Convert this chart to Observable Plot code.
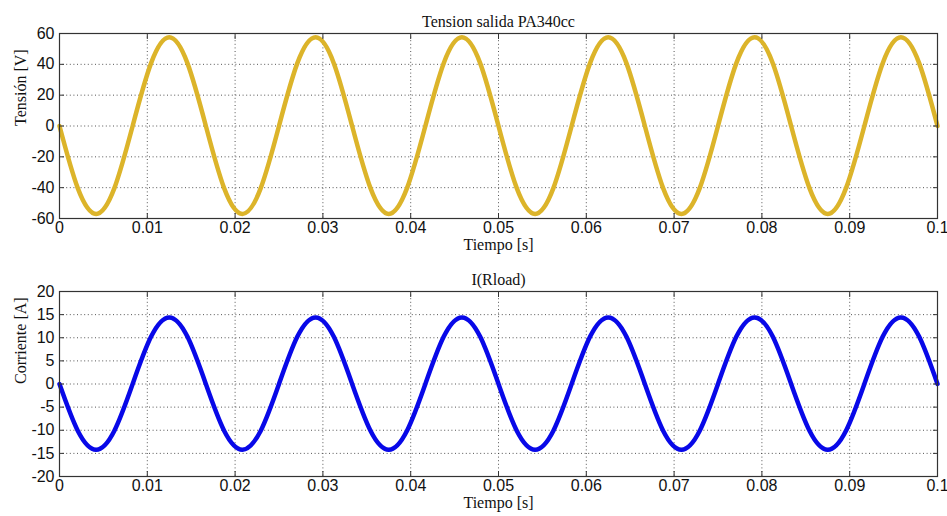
<!DOCTYPE html>
<html><head><meta charset="utf-8">
<script src="https://cdn.jsdelivr.net/npm/d3@7"></script>
<script src="https://cdn.jsdelivr.net/npm/@observablehq/plot@0.6"></script>
<style>body{margin:0;background:#fff} #chart svg{display:block}</style>
</head><body><div id="chart"></div>
<script>
// Samples (every 1/8 of a period, 60 Hz)
const time = [0,0.00208,0.00417,0.00625,0.00833,0.01042,0.0125,0.01458,
  0.01667,0.01875,0.02083,0.02292,0.025,0.02708,0.02917,0.03125,
  0.03333,0.03542,0.0375,0.03958,0.04167,0.04375,0.04583,0.04792,
  0.05,0.05208,0.05417,0.05625,0.05833,0.06042,0.0625,0.06458,
  0.06667,0.06875,0.07083,0.07292,0.075,0.07708,0.07917,0.08125,
  0.08333,0.08542,0.0875,0.08958,0.09167,0.09375,0.09583,0.09792,0.1];
const voltage = [0,-40.3,-57,-40.3,0,40.6,57.5,40.6,
  0,-40.3,-57,-40.3,0,40.6,57.5,40.6,
  0,-40.3,-57,-40.3,0,40.6,57.5,40.6,
  0,-40.3,-57,-40.3,0,40.6,57.5,40.6,
  0,-40.3,-57,-40.3,0,40.6,57.5,40.6,
  0,-40.3,-57,-40.3,0,40.6,57.5,40.6,0];
const current = [0,-10.1,-14.2,-10.1,0,10.2,14.4,10.2,
  0,-10.1,-14.2,-10.1,0,10.2,14.4,10.2,
  0,-10.1,-14.2,-10.1,0,10.2,14.4,10.2,
  0,-10.1,-14.2,-10.1,0,10.2,14.4,10.2,
  0,-10.1,-14.2,-10.1,0,10.2,14.4,10.2,
  0,-10.1,-14.2,-10.1,0,10.2,14.4,10.2,0];
const xTicks = [0,0.01,0.02,0.03,0.04,0.05,0.06,0.07,0.08,0.09,0.1];
const xTickLabels = ["0","0.01","0.02","0.03","0.04","0.05","0.06","0.07","0.08","0.09","0.1"];
const voltTicks = [-60,-40,-20,0,20,40,60];
const currTicks = [-20,-15,-10,-5,0,5,10,15,20];
const titles = ["Tension salida PA340cc","I(Rload)"];
const yLabels = ["Tensión [V]","Corriente [A]"];
const xLabel = "Tiempo [s]";
const colors = ["#dcb42a","#0808e8"];

const serif = "'Liberation Serif','Times New Roman',serif";
const gridStyle = {stroke:"#444", strokeOpacity:0.9, strokeDasharray:"1,2.6", strokeWidth:1};

function panel(title, ylabel, values, yTicks, color) {
  const data = time.map((t, i) => ({t, v: values[i]}));
  return Plot.plot({
    width: 947, height: 258,
    marginLeft: 59, marginRight: 10, marginTop: 33, marginBottom: 40,
    style: {fontFamily: "'Liberation Sans',Arial,sans-serif", fontSize: "16px", background: "white", color: "#111"},
    x: {domain: [0, 0.1]},
    y: {domain: [yTicks[0], yTicks[yTicks.length - 1]]},
    marks: [
      Plot.gridX(xTicks, gridStyle),
      Plot.gridY(yTicks, gridStyle),
      Plot.line(data, {x: "t", y: "v", stroke: color, strokeWidth: 4.5, curve: "natural"}),
      Plot.frame({stroke: "#333", strokeWidth: 1.2}),
      Plot.axisX(xTicks, {anchor: "bottom", tickSize: -5, tickPadding: 8, stroke: "#333",
        tickFormat: d => xTickLabels[xTicks.indexOf(d)], label: null}),
      Plot.axisX(xTicks, {anchor: "top", tickSize: -5, stroke: "#333", tickFormat: () => "", label: null}),
      Plot.axisY(yTicks, {anchor: "left", tickSize: -5, tickPadding: 10, stroke: "#333",
        tickFormat: d => String(d), label: null}),
      Plot.axisY(yTicks, {anchor: "right", tickSize: -5, stroke: "#333", tickFormat: () => "", label: null}),
      Plot.text([title], {frameAnchor: "top", dy: -18, fontFamily: serif, fontSize: 16, fill: "#111"}),
      Plot.text([xLabel], {frameAnchor: "bottom", dy: 31, fontFamily: serif, fontSize: 16, fill: "#111"}),
      Plot.text([ylabel], {frameAnchor: "left", dx: -39, rotate: -90, fontFamily: serif, fontSize: 16, fill: "#111"})
    ]
  });
}
const root = document.getElementById("chart");
root.appendChild(panel(titles[0], yLabels[0], voltage, voltTicks, colors[0]));
root.appendChild(panel(titles[1], yLabels[1], current, currTicks, colors[1]));
</script>
</body></html>
